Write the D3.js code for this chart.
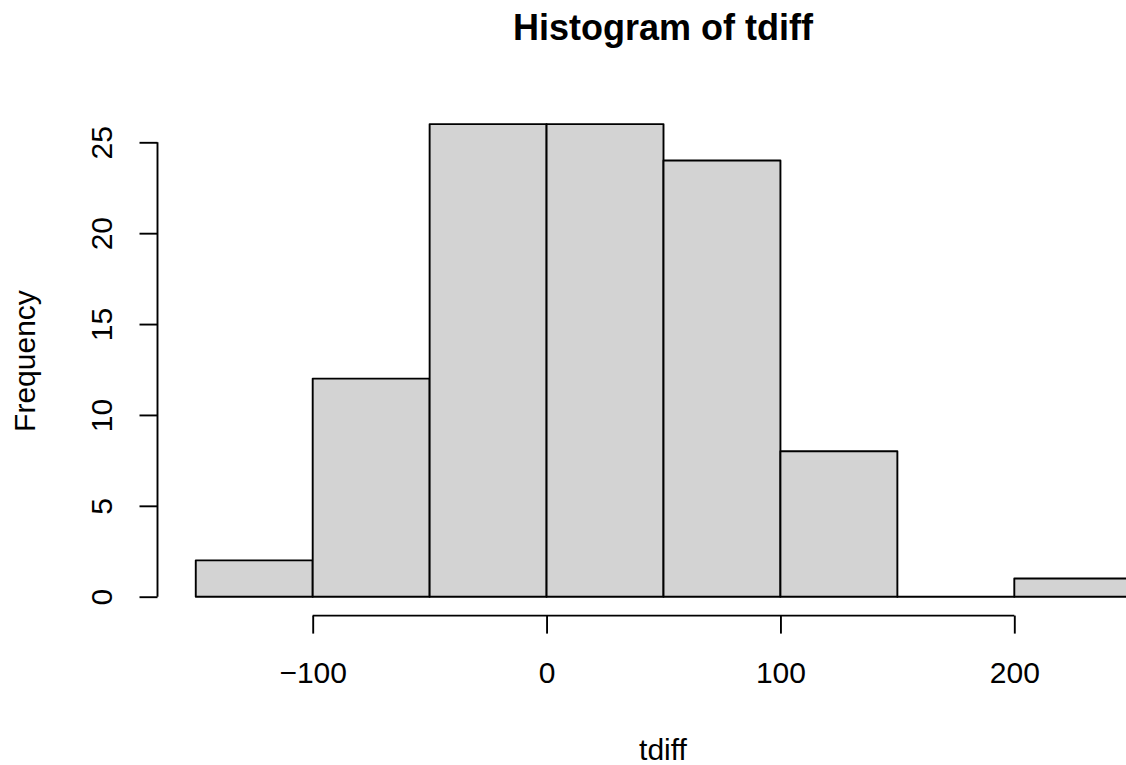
<!DOCTYPE html>
<html>
<head>
<meta charset="utf-8">
<script src="https://cdn.jsdelivr.net/npm/d3@7"></script>
<style>
  body { margin: 0; background: #fff; }
  svg { display: block; font-family: "Liberation Sans", Arial, sans-serif; }
</style>
</head>
<body>
<div id="chart"></div>
<script>
// Histogram bins (left edges, width 50) and counts
const binStarts = [-150, -100, -50, 0, 50, 100, 150, 200];
const binWidth = 50;
const counts = [2, 12, 26, 26, 24, 8, 0, 1];
const xTicks = [-100, 0, 100, 200];
const yTicks = [0, 5, 10, 15, 20, 25];

const width = 1126;
const height = 765;

const svg = d3.select("#chart")
  .append("svg")
  .attr("width", width)
  .attr("height", height);

// Scales (plot region is wider than the image, so the last bar is clipped)
const x = d3.scaleLinear()
  .domain([-100, 200])
  .range([312.7, 1014.3]);

const y = d3.scaleLinear()
  .domain([0, 25])
  .range([596.7, 142.3]);

const centerX = 663;

// Bars as closed paths, so an empty bin still shows as a flat line
svg.selectAll(".bar")
  .data(binStarts)
  .enter()
  .append("path")
  .attr("class", "bar")
  .attr("d", (d, i) => {
    const x0 = x(d), x1 = x(d + binWidth);
    const y0 = y(0), y1 = y(counts[i]);
    return `M${x0},${y0}L${x0},${y1}L${x1},${y1}L${x1},${y0}Z`;
  })
  .attr("fill", "#d3d3d3")
  .attr("stroke", "#000")
  .attr("stroke-width", 1.9)
  .attr("stroke-linejoin", "round");

// X axis
const xAxis = svg.append("g")
  .attr("class", "x-axis")
  .attr("transform", "translate(0, 615.6)")
  .call(d3.axisBottom(x).tickValues(xTicks).tickSize(18).tickSizeOuter(0).tickPadding(0));

xAxis.select(".domain").remove();
xAxis.append("line")
  .attr("x1", x(xTicks[0]))
  .attr("x2", x(xTicks[xTicks.length - 1]))
  .attr("stroke", "#000")
  .attr("stroke-width", 1.9);
xAxis.selectAll(".tick line").attr("stroke-width", 1.9);
xAxis.selectAll(".tick text")
  .attr("y", 67)
  .attr("dy", null)
  .attr("fill", "#000")
  .style("font-size", "30px")
  .style("font-family", "Liberation Sans, Arial, sans-serif");

// Y axis
const yAxis = svg.append("g")
  .attr("class", "y-axis")
  .attr("transform", "translate(157.5, 0)")
  .call(d3.axisLeft(y).tickValues(yTicks).tickSize(18).tickSizeOuter(0));

yAxis.select(".domain").remove();
yAxis.append("line")
  .attr("y1", y(yTicks[0]))
  .attr("y2", y(yTicks[yTicks.length - 1]))
  .attr("stroke", "#000")
  .attr("stroke-width", 1.9);
yAxis.selectAll(".tick line").attr("stroke-width", 1.9);
yAxis.selectAll(".tick text")
  .attr("x", null)
  .attr("dy", null)
  .attr("transform", "translate(-46, 0) rotate(-90)")
  .attr("text-anchor", "middle")
  .attr("fill", "#000")
  .style("font-size", "30px")
  .style("font-family", "Liberation Sans, Arial, sans-serif");

// Title and axis labels
svg.append("text")
  .attr("x", centerX)
  .attr("y", 39.5)
  .attr("text-anchor", "middle")
  .style("font-size", "36px")
  .style("font-weight", "bold")
  .text("Histogram of tdiff");

svg.append("text")
  .attr("x", centerX)
  .attr("y", 760)
  .attr("text-anchor", "middle")
  .style("font-size", "30px")
  .text("tdiff");

svg.append("text")
  .attr("transform", "translate(35, 361) rotate(-90)")
  .attr("text-anchor", "middle")
  .style("font-size", "30px")
  .text("Frequency");
</script>
</body>
</html>
